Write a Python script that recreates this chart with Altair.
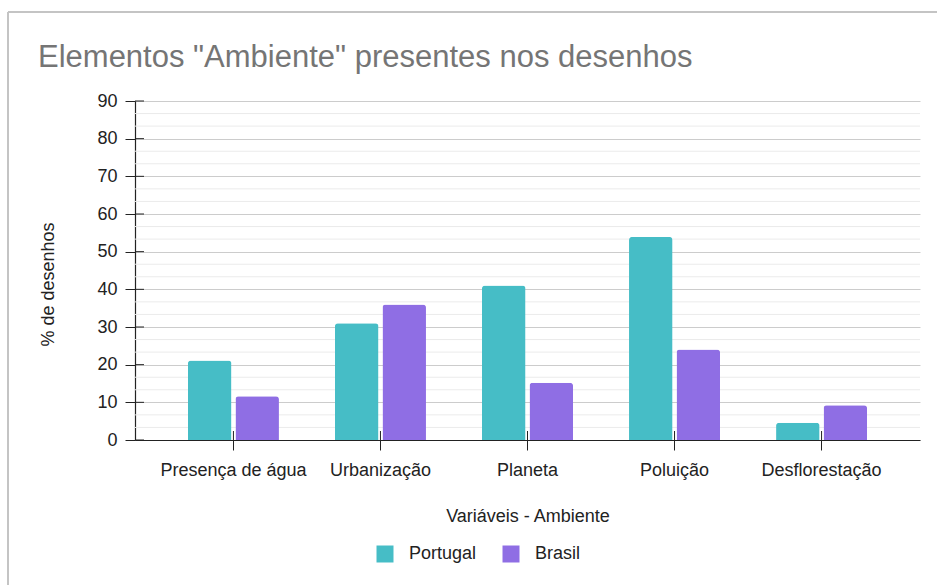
import altair as alt
import pandas as pd

# Percentage of drawings containing each "environment" element, by country
categories = ["Presença de água", "Urbanização", "Planeta", "Poluição", "Desflorestação"]
series = ["Portugal", "Brasil"]
portugal = [21.1, 31.0, 41.0, 53.9, 4.6]
brasil = [11.6, 36.0, 15.2, 24.0, 9.2]
colors = ["#46bdc6", "#8f6ee4"]
chart_title = 'Elementos "Ambiente" presentes nos desenhos'

y_ticks = list(range(0, 91, 10))
minor_ticks = [round(k * 10 / 3, 4) for k in range(1, 27) if k % 3]

W, H = 785, 339
FONT = "Liberation Sans, Arial, sans-serif"
INK = "#222222"

bars_df = pd.DataFrame({
    "categoria": categories * 2,
    "pais": [series[0]] * len(categories) + [series[1]] * len(categories),
    "pct": portugal + brasil,
})
cats_df = pd.DataFrame({"categoria": categories})
ticks_df = pd.DataFrame({"pct": y_ticks})
minor_df = pd.DataFrame({"pct": minor_ticks})

x_scale = alt.Scale(domain=categories, paddingInner=0.381, paddingOuter=0.36)
y_scale = alt.Scale(domain=[0, 90], nice=False)

x_axis = alt.Axis(
    labelAngle=0, labelFont=FONT, labelFontSize=18, labelColor=INK,
    labelBaseline="alphabetic", labelPadding=25,
    tickSize=10, tickColor=INK, tickWidth=1,
    domainColor=INK, domainWidth=1.2,
    titleFont=FONT, titleFontSize=18, titleFontWeight="normal", titleColor=INK,
    titleBaseline="alphabetic", titleY=81,
    zindex=1,
)
y_axis = alt.Axis(
    values=y_ticks, labelFont=FONT, labelFontSize=18, labelColor=INK,
    labelPadding=8, tickSize=10, tickColor=INK, tickWidth=1,
    domainColor=INK, domainWidth=1.2,
    grid=True, gridColor="#cccccc", gridWidth=1,
    titleFont=FONT, titleFontSize=18, titleFontWeight="normal", titleColor=INK,
    titleAngle=270, titleBaseline="alphabetic", titleAlign="center",
    titleX=-82, titleY=183,
    zindex=0,
)

X_TITLE = "Variáveis - Ambiente"
Y_TITLE = "% de desenhos"


def y_enc():
    return alt.Y("pct:Q", scale=y_scale, axis=y_axis, title=Y_TITLE)


def x_enc():
    return alt.X("categoria:N", sort=categories, scale=x_scale, axis=x_axis, title=X_TITLE)


# light minor gridlines between the labelled ones
minor = alt.Chart(minor_df).mark_rule(color="#ebebeb", strokeWidth=1).encode(
    y=y_enc(), x=alt.value(0), x2=alt.value(W)
)

bars = alt.Chart(bars_df).mark_bar(cornerRadiusTopLeft=3, cornerRadiusTopRight=3).encode(
    x=x_enc(),
    xOffset=alt.XOffset("pais:N", sort=series,
                        scale=alt.Scale(paddingInner=0.084, paddingOuter=0)),
    y=y_enc(),
    color=alt.Color(
        "pais:N", sort=series,
        scale=alt.Scale(domain=series, range=colors),
        legend=alt.Legend(
            title=None, orient="none", direction="horizontal",
            legendX=241, legendY=444, padding=0,
            symbolType="square", symbolSize=289, symbolStrokeWidth=0,
            symbolOpacity=1, labelFont=FONT, labelFontSize=18, labelColor=INK,
            labelOffset=15, columnPadding=25,
        ),
    ),
)

# inner halves of the axis ticks, crossing the axis lines
x_inner = alt.Chart(cats_df).mark_rule(color=INK, strokeWidth=1).encode(
    x=x_enc(), y=alt.value(H - 9), y2=alt.value(H)
)
y_inner = alt.Chart(ticks_df).mark_rule(color=INK, strokeWidth=1).encode(
    y=y_enc(), x=alt.value(0), x2=alt.value(9)
)

# outer frame of the chart box and its heading
single = alt.Data(values=[{}])
frame_top = alt.Chart(single).mark_rule(color="#c4c4c4", strokeWidth=2).encode(
    x=alt.value(-127), x2=alt.value(802), y=alt.value(-89)
)
frame_left = alt.Chart(single).mark_rule(color="#c4c4c4", strokeWidth=2).encode(
    x=alt.value(-127), y=alt.value(-89), y2=alt.value(484)
)
heading = alt.Chart(single).mark_text(
    align="left", baseline="alphabetic", font=FONT, fontSize=31,
    fontWeight="normal", color="#757575",
).encode(x=alt.value(-97), y=alt.value(-34), text=alt.value(chart_title))

chart = alt.layer(
    minor, bars, x_inner, y_inner, frame_top, frame_left, heading
).properties(
    width=W, height=H,
    autosize=alt.AutoSizeParams(type="none"),
    padding={"left": 135, "top": 101, "right": 17, "bottom": 145},
    background="white",
).configure_view(stroke=None)

chart.save("out.html", embed_options={"renderer": "svg", "actions": False})
